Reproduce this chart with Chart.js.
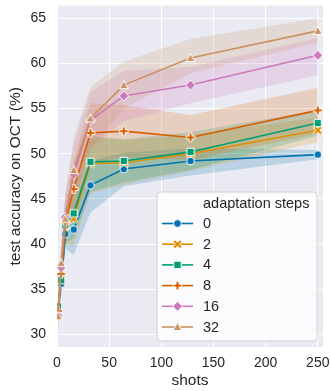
<!DOCTYPE html>
<html>
<head>
<meta charset="utf-8">
<script src="https://cdn.jsdelivr.net/npm/chart.js@4.4.0/dist/chart.umd.min.js"></script>
<style>
  html, body { margin: 0; padding: 0; background: #ffffff; }
  #c { display: block; }
</style>
</head>
<body>
<canvas id="c" width="330" height="391"></canvas>
<script>
// Number of shots per class (x axis)
const shots = [1, 4, 8, 16, 32, 64, 128, 250];
const xTicks = [0, 50, 100, 150, 200, 250];
const yTicks = [30, 35, 40, 45, 50, 55, 60, 65];

// Adaptation step counts (one curve each)
const stepLabels = ['0', '2', '4', '8', '16', '32'];

// Mean test accuracy (%) and confidence band per adaptation-step setting
const acc0  = [32.9, 35.6, 41.1, 41.6, 46.5, 48.3, 49.2, 49.9];
const lo0   = [31.8, 34.3, 39.5, 38.8, 43.5, 46.4, 47.6, 49.4];
const hi0   = [34.0, 36.9, 42.7, 44.4, 49.2, 50.1, 50.6, 50.4];

const acc2  = [33.0, 36.2, 42.0, 42.8, 48.9, 49.0, 50.0, 52.6];
const lo2   = [31.7, 34.7, 40.0, 39.8, 45.6, 46.6, 48.1, 51.3];
const hi2   = [34.3, 37.6, 44.0, 45.8, 51.9, 51.5, 52.1, 54.0];

const acc4  = [33.1, 36.0, 42.1, 43.4, 49.1, 49.2, 50.2, 53.4];
const lo4   = [31.8, 34.5, 40.2, 40.6, 45.8, 46.8, 48.2, 52.0];
const hi4   = [34.4, 37.5, 44.0, 46.2, 52.0, 51.6, 52.4, 54.8];

const acc8  = [32.6, 36.7, 42.4, 46.1, 52.3, 52.5, 51.8, 54.8];
const lo8   = [31.0, 34.8, 40.0, 43.0, 49.0, 49.6, 49.3, 52.2];
const hi8   = [34.2, 38.6, 44.8, 49.2, 55.6, 55.4, 54.3, 57.3];

const acc16 = [32.1, 37.4, 43.0, 47.7, 53.7, 56.4, 57.6, 60.9];
const lo16  = [30.6, 35.4, 40.4, 44.4, 50.6, 53.6, 55.6, 58.7];
const hi16  = [33.6, 39.4, 45.6, 51.0, 56.8, 59.2, 59.6, 62.8];

const acc32 = [32.0, 37.9, 42.8, 48.2, 53.9, 57.6, 60.6, 63.6];
const lo32  = [30.0, 35.6, 40.0, 44.6, 50.4, 55.0, 58.9, 62.3];
const hi32  = [34.0, 40.2, 45.6, 51.8, 57.4, 60.2, 62.7, 65.0];

const means  = [acc0, acc2, acc4, acc8, acc16, acc32];
const lowers = [lo0, lo2, lo4, lo8, lo16, lo32];
const uppers = [hi0, hi2, hi4, hi8, hi16, hi32];

const colors  = ['#0173b2', '#de8f05', '#029e73', '#d55e00', '#cc78bc', '#ca9161'];
const markers = ['o', 'X', 's', 'P', 'D', '^'];

const FONT = "'Liberation Sans', Arial, sans-serif";
const TEXT = '#262626';

function rgba(hex, a) {
  const n = parseInt(hex.slice(1), 16);
  return `rgba(${(n >> 16) & 255},${(n >> 8) & 255},${n & 255},${a})`;
}

// Filled marker shapes with a thin white edge
function drawMarker(ctx, shape, x, y, color) {
  ctx.save();
  ctx.fillStyle = color;
  ctx.strokeStyle = '#ffffff';
  ctx.lineWidth = 1;
  ctx.lineJoin = 'miter';
  ctx.beginPath();
  const poly = pts => {
    ctx.moveTo(x + pts[0][0], y + pts[0][1]);
    for (let i = 1; i < pts.length; i++) ctx.lineTo(x + pts[i][0], y + pts[i][1]);
    ctx.closePath();
  };
  const plus = (a, w, rot) => {
    const base = [[-w,-a],[w,-a],[w,-w],[a,-w],[a,w],[w,w],[w,a],[-w,a],[-w,w],[-a,w],[-a,-w],[-w,-w]];
    const c = Math.cos(rot), s = Math.sin(rot);
    poly(base.map(([px, py]) => [px * c - py * s, px * s + py * c]));
  };
  switch (shape) {
    case 'o': ctx.arc(x, y, 3.9, 0, Math.PI * 2); break;
    case 's': ctx.rect(x - 3.7, y - 3.7, 7.4, 7.4); break;
    case 'D': poly([[0, -4.9], [4.9, 0], [0, 4.9], [-4.9, 0]]); break;
    case '^': poly([[0, -4.4], [4.4, 3.6], [-4.4, 3.6]]); break;
    case 'X': plus(5.0, 1.45, Math.PI / 4); break;
    case 'P': plus(4.3, 1.45, 0); break;
  }
  ctx.fill();
  ctx.stroke();
  ctx.restore();
}

function markerImage(shape, color) {
  const cv = document.createElement('canvas');
  cv.width = 16; cv.height = 16;
  drawMarker(cv.getContext('2d'), shape, 8, 8, color);
  return cv;
}

const pts = arr => shots.map((s, i) => ({ x: s, y: arr[i] }));

// Bands first (lower edge, upper edge filled to lower), then the mean lines
const datasets = [];
stepLabels.forEach((lab, i) => {
  datasets.push({
    label: 'lo' + lab, data: pts(lowers[i]), borderWidth: 0, pointRadius: 0,
    fill: false, order: 100, tension: 0
  });
  datasets.push({
    label: 'hi' + lab, data: pts(uppers[i]), borderWidth: 0, pointRadius: 0,
    backgroundColor: rgba(colors[i], 0.2),
    fill: { target: '-1', above: rgba(colors[i], 0.2), below: rgba(colors[i], 0.2) },
    order: 100 - i, tension: 0
  });
});
stepLabels.forEach((lab, i) => {
  datasets.push({
    label: lab, data: pts(means[i]), borderColor: colors[i], borderWidth: 1.6,
    backgroundColor: colors[i], fill: false, tension: 0,
    pointStyle: markerImage(markers[i], colors[i]), pointRadius: 4,
    order: 50 - i
  });
});

const plotBackground = {
  id: 'plotBackground',
  beforeDraw(chart) {
    const { ctx, chartArea: a } = chart;
    ctx.save();
    ctx.fillStyle = '#eaeaf2';
    ctx.fillRect(a.left, a.top, a.right - a.left, a.bottom - a.top);
    ctx.restore();
  }
};

const stepsLegend = {
  id: 'stepsLegend',
  afterDraw(chart) {
    const ctx = chart.ctx;
    const x0 = 157, y0 = 192, w = 160, h = 149, r = 3.5;
    ctx.save();
    ctx.beginPath();
    ctx.moveTo(x0 + r, y0);
    ctx.arcTo(x0 + w, y0, x0 + w, y0 + h, r);
    ctx.arcTo(x0 + w, y0 + h, x0, y0 + h, r);
    ctx.arcTo(x0, y0 + h, x0, y0, r);
    ctx.arcTo(x0, y0, x0 + w, y0, r);
    ctx.closePath();
    ctx.fillStyle = 'rgba(255,255,255,0.8)';
    ctx.fill();
    ctx.strokeStyle = '#d0d0d0';
    ctx.lineWidth = 1;
    ctx.stroke();

    ctx.fillStyle = TEXT;
    ctx.font = `14.5px ${FONT}`;
    ctx.textBaseline = 'middle';
    ctx.textAlign = 'left';
    ctx.fillText('adaptation steps', 203, 204);

    stepLabels.forEach((lab, i) => {
      const y = 223.5 + i * 20.7;
      ctx.strokeStyle = colors[i];
      ctx.lineWidth = 1.6;
      ctx.beginPath();
      ctx.moveTo(162, y);
      ctx.lineTo(193, y);
      ctx.stroke();
      drawMarker(ctx, markers[i], 177.5, y, colors[i]);
      ctx.fillStyle = TEXT;
      ctx.font = `14.5px ${FONT}`;
      ctx.fillText(lab, 203, y + 0.5);
    });
    ctx.restore();
  }
};

// Keep the plot area fixed: no extra room reserved for edge tick labels
function noEdgePadding(s) {
  s.paddingTop = 0; s.paddingBottom = 0; s.paddingLeft = 0; s.paddingRight = 0;
}

new Chart(document.getElementById('c'), {
  type: 'line',
  data: { datasets },
  options: {
    responsive: false,
    animation: false,
    devicePixelRatio: 1,
    layout: { padding: { top: 3, right: 7, left: 0, bottom: 0 } },
    plugins: {
      legend: { display: false },
      tooltip: { enabled: false }
    },
    scales: {
      x: {
        type: 'linear', min: 0, max: 255,
        afterBuildTicks: s => { s.ticks = xTicks.map(v => ({ value: v })); },
        afterFit: s => { s.height = 44; noEdgePadding(s); },
        grid: { color: '#ffffff', lineWidth: 1, drawTicks: false },
        border: { display: false },
        ticks: { color: TEXT, font: { family: FONT, size: 14 }, padding: 8, maxRotation: 0 },
        title: { display: true, text: 'shots', color: TEXT, font: { family: FONT, size: 15.5 },
                 padding: { top: 0, bottom: 1 } }
      },
      y: {
        type: 'linear', min: 28.6, max: 66.4,
        afterBuildTicks: s => { s.ticks = yTicks.map(v => ({ value: v })); },
        afterFit: s => { s.width = 57; noEdgePadding(s); },
        grid: { color: '#ffffff', lineWidth: 1, drawTicks: false },
        border: { display: false },
        ticks: { color: TEXT, font: { family: FONT, size: 14 }, padding: 11 },
        title: { display: true, text: 'test accuracy on OCT (%)', color: TEXT,
                 font: { family: FONT, size: 15.5 }, padding: { top: 6, bottom: 0 } }
      }
    }
  },
  plugins: [plotBackground, stepsLegend]
});
</script>
</body>
</html>
